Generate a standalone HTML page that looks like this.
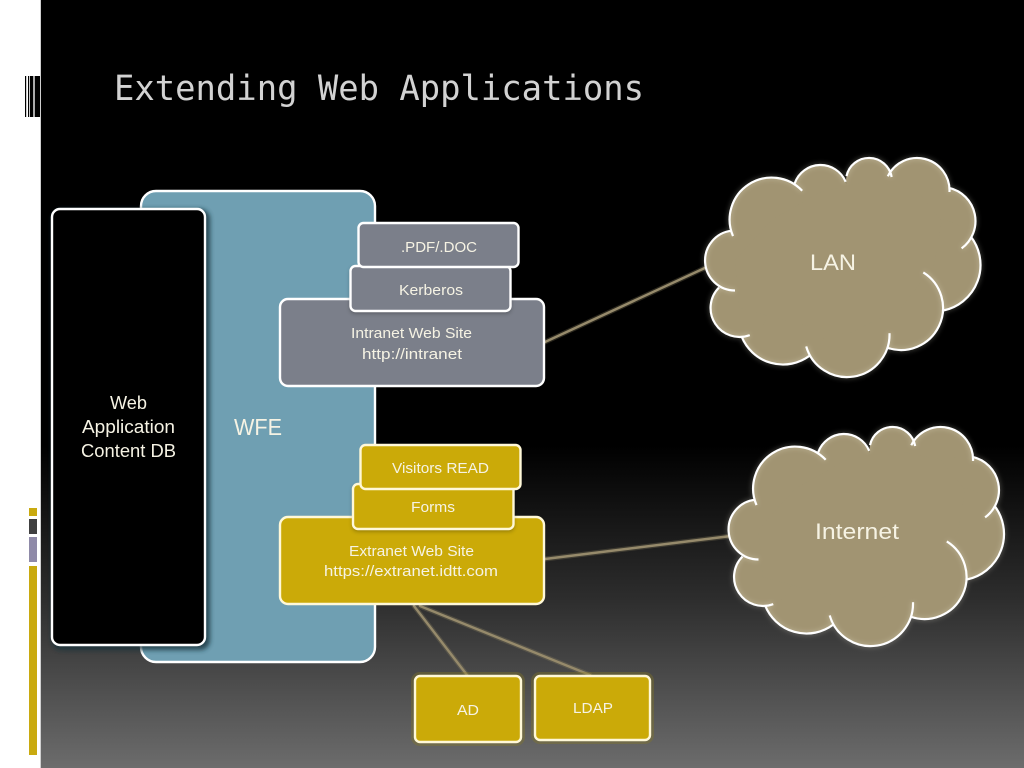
<!DOCTYPE html>
<html>
<head>
<meta charset="utf-8">
<style>
html,body{margin:0;padding:0;background:#fff;width:1024px;height:768px;overflow:hidden}
svg{display:block}
text{font-family:"Liberation Sans",sans-serif;fill:#f6f3e4;text-anchor:middle}
text.t{font-family:"DejaVu Sans Mono",monospace;fill:#d2d2d2}
</style>
</head>
<body>
<svg width="1024" height="768" viewBox="0 0 1024 768" xmlns="http://www.w3.org/2000/svg">
<defs>
<linearGradient id="bg" x1="0" y1="0" x2="0" y2="1">
<stop offset="0" stop-color="#000"/>
<stop offset="0.58" stop-color="#000"/>
<stop offset="0.78" stop-color="#2d2d2d"/>
<stop offset="1" stop-color="#6c6c6c"/>
</linearGradient>
<filter id="b2" x="-20%" y="-20%" width="140%" height="140%"><feGaussianBlur stdDeviation="2.5"/></filter>
<path id="arcs" d="M733 236.1A42 42 0 0 1 802.2 190.8M794.750 183.2A27.300 27.300 0 0 1 845.700 181.800M846.500 176.100A23 23 0 0 1 891.650 177M887.800 176.300A32.500 32.500 0 0 1 949.500 192M948.800 187.800A34 34 0 0 1 961.600 248.400M970.700 236.400A46.500 46.500 0 0 1 943.400 310.500M923.300 272.400A42 42 0 0 1 887 347.600M889.500 333.200A42.500 42.500 0 0 1 806.200 346.400M809.350 355.900A44.500 44.500 0 0 1 741.700 336.700M749.750 335.100A29 29 0 0 1 719 287.500M735 290.500A30 30 0 0 1 731.600 230.700" fill="none"/>
<g id="cloud">
<g fill="#a19472">
<circle cx="771.700" cy="219.700" r="42"/>
<circle cx="820.500" cy="192.300" r="27.300"/>
<circle cx="869" cy="181" r="23"/>
<circle cx="917" cy="190.500" r="32.500"/>
<circle cx="941.500" cy="221" r="34"/>
<circle cx="934" cy="265" r="46.500"/>
<circle cx="901" cy="308" r="42"/>
<circle cx="847" cy="334.500" r="42.500"/>
<circle cx="783" cy="320" r="44.500"/>
<circle cx="739.500" cy="308" r="29"/>
<circle cx="735" cy="260.500" r="30"/>
<polygon points="771.700,219.700 820.500,192.300 869,181 917,190.500 941.500,221 934,265 901,308 847,334.500 783,320 739.500,308 735,260.500"/>
</g>
<use href="#arcs" stroke="#fffbe8" stroke-width="4" stroke-opacity="0.22" filter="url(#b2)"/>
<use href="#arcs" stroke="#fff" stroke-width="2.200"/>
</g>
</defs>

<rect width="1024" height="768" fill="#fff"/>
<rect x="41" y="0" width="983" height="768" fill="url(#bg)"/>
<rect x="40" y="0" width="1" height="768" fill="#cfcfcf"/>

<!-- window-like icon -->
<rect x="25" y="76" width="1.200" height="41" fill="#000"/>
<rect x="28" y="76" width="1.200" height="41" fill="#000"/>
<rect x="30" y="76" width="3" height="41" fill="#000"/>
<rect x="33" y="76" width="2" height="41" fill="#aaa"/>
<rect x="35" y="76" width="5" height="41" fill="#000"/>

<!-- left strips -->
<rect x="29" y="508" width="8" height="8" fill="#c9aa10"/>
<rect x="29" y="519" width="8" height="15" fill="#404040"/>
<rect x="29" y="537" width="8" height="25" fill="#8f8aa8"/>
<rect x="29" y="566" width="8" height="189" fill="#c9aa10"/>

<text class="t" x="379" y="100" font-size="34.500" textLength="530" lengthAdjust="spacingAndGlyphs">Extending Web Applications</text>

<!-- WFE panel -->
<rect x="141" y="191" width="234" height="471" rx="15" fill="#6f9fb2" stroke="#fff" stroke-width="2.400"/>
<text x="258" y="435" font-size="23" textLength="48" lengthAdjust="spacingAndGlyphs">WFE</text>

<!-- DB panel -->
<rect x="54" y="211" width="154" height="437" rx="8" fill="#16303a" opacity="0.8" stroke="#16303a" stroke-width="4" filter="url(#b2)"/>
<rect x="52" y="209" width="153" height="436" rx="8" fill="#000" stroke="#fff" stroke-width="2.400"/>
<text x="128.500" y="409" font-size="18" textLength="37" lengthAdjust="spacingAndGlyphs">Web</text>
<text x="128.500" y="433" font-size="18" textLength="93" lengthAdjust="spacingAndGlyphs">Application</text>
<text x="128.500" y="457" font-size="18" textLength="95" lengthAdjust="spacingAndGlyphs">Content DB</text>

<!-- connectors -->
<g fill="none" stroke-linecap="round">
<g stroke="#8a8060" stroke-width="5" stroke-opacity="0.3">
<path d="M545 342L707 267"/><path d="M545 559L731 536"/><path d="M414 606L467 675"/><path d="M420 606L590 675"/>
</g>
<g stroke="#968a6b" stroke-width="2.400">
<path d="M545 342L707 267"/><path d="M545 559L731 536"/><path d="M414 606L467 675"/><path d="M420 606L590 675"/>
</g>
</g>

<!-- Intranet stack -->
<rect x="280" y="299" width="264" height="87" rx="8" fill="#7b7f8a" stroke="#fff" stroke-width="2.400"/>
<rect x="350.500" y="268" width="160" height="45" rx="4" fill="#000" opacity="0.35" filter="url(#b2)"/>
<rect x="350.500" y="266" width="160" height="45" rx="5" fill="#7b7f8a" stroke="#fff" stroke-width="2.400"/>
<rect x="358.500" y="223" width="160" height="44" rx="5" fill="#7b7f8a" stroke="#fff" stroke-width="2.400"/>
<text x="439" y="252" font-size="15" textLength="76" lengthAdjust="spacingAndGlyphs">.PDF/.DOC</text>
<text x="431" y="295" font-size="15" textLength="64" lengthAdjust="spacingAndGlyphs">Kerberos</text>
<text x="411.500" y="338" font-size="15" textLength="121" lengthAdjust="spacingAndGlyphs">Intranet Web Site</text>
<text x="412" y="359" font-size="15" textLength="100" lengthAdjust="spacingAndGlyphs">http://intranet</text>

<!-- Extranet stack -->
<rect x="280" y="517" width="264" height="87" rx="8" fill="#cbaa08" stroke="#fff8d8" stroke-width="2.400"/>
<rect x="353" y="486" width="160.500" height="45" rx="4" fill="#000" opacity="0.35" filter="url(#b2)"/>
<rect x="353" y="484" width="160.500" height="45" rx="5" fill="#cbaa08" stroke="#fff8d8" stroke-width="2.400"/>
<rect x="360.500" y="445" width="160" height="44" rx="5" fill="#cbaa08" stroke="#fff8d8" stroke-width="2.400"/>
<text x="440.500" y="473" font-size="15" textLength="97" lengthAdjust="spacingAndGlyphs">Visitors READ</text>
<text x="433" y="512" font-size="15" textLength="44" lengthAdjust="spacingAndGlyphs">Forms</text>
<text x="411.500" y="556" font-size="15" textLength="125" lengthAdjust="spacingAndGlyphs">Extranet Web Site</text>
<text x="411" y="576" font-size="15" textLength="174" lengthAdjust="spacingAndGlyphs">https://extranet.idtt.com</text>

<!-- AD / LDAP -->
<rect x="415" y="676" width="106" height="66" rx="5" fill="none" stroke="#8a7c20" stroke-width="8" stroke-opacity="0.35"/>
<rect x="535" y="676" width="115" height="64" rx="5" fill="none" stroke="#8a7c20" stroke-width="8" stroke-opacity="0.35"/>
<rect x="415" y="676" width="106" height="66" rx="5" fill="#cbaa08" stroke="#fff8d8" stroke-width="2.400"/>
<rect x="535" y="676" width="115" height="64" rx="5" fill="#cbaa08" stroke="#fff8d8" stroke-width="2.400"/>
<text x="468" y="715" font-size="15" textLength="22" lengthAdjust="spacingAndGlyphs">AD</text>
<text x="593" y="713" font-size="15" textLength="40" lengthAdjust="spacingAndGlyphs">LDAP</text>

<!-- clouds -->
<use href="#cloud"/>
<use href="#cloud" transform="translate(23.500 269)"/>
<text x="833" y="270" font-size="22" textLength="46" lengthAdjust="spacingAndGlyphs">LAN</text>
<text x="857" y="539" font-size="22" textLength="84" lengthAdjust="spacingAndGlyphs">Internet</text>
</svg>
</body>
</html>
